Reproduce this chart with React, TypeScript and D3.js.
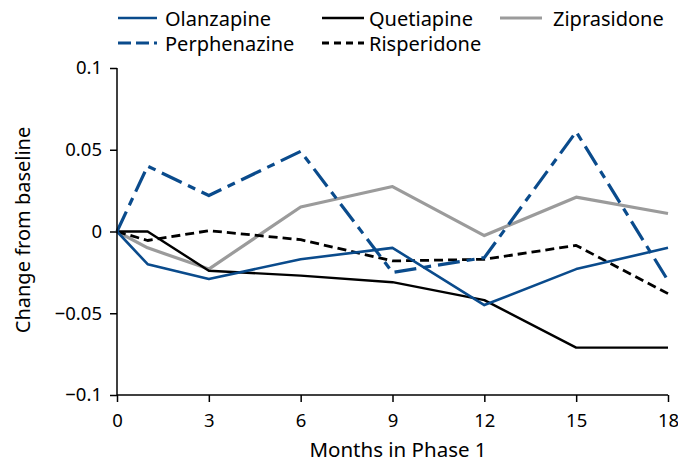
import React, { useEffect, useRef } from 'react';
import * as d3 from 'd3';

const months = [0, 1, 3, 6, 9, 12, 15, 18];
const olanzapine = [0, -0.02, -0.029, -0.017, -0.01, -0.045, -0.023, -0.01];
const perphenazine = [0, 0.04, 0.022, 0.049, -0.025, -0.016, 0.061, -0.03];
const quetiapine = [0, 0, -0.024, -0.027, -0.031, -0.042, -0.071, -0.071];
const risperidone = [0, -0.0055, 0.0005, -0.005, -0.018, -0.017, -0.0085, -0.038];
const ziprasidone = [0, -0.01, -0.023, 0.015, 0.0275, -0.0025, 0.021, 0.011];
const xTicks = [0, 3, 6, 9, 12, 15, 18];
const yTicks = [0.1, 0.05, 0, -0.05, -0.1];

const BLUE = '#0a4b8c';
const GREY = '#9b9b9b';

const series = [
  { name: 'Olanzapine', values: olanzapine, color: BLUE, dash: null, legendDash: null, width: 2.6 },
  { name: 'Perphenazine', values: perphenazine, color: BLUE, dash: '22,7,8,7', legendDash: '13,5', width: 3.2 },
  { name: 'Quetiapine', values: quetiapine, color: '#000', dash: null, legendDash: null, width: 2.4 },
  { name: 'Risperidone', values: risperidone, color: '#000', dash: '9,5', legendDash: '7,5', width: 2.8 },
  { name: 'Ziprasidone', values: ziprasidone, color: GREY, dash: null, legendDash: null, width: 3.2 },
];

// legend layout: line start, line end, text x, row
const legendPos = [
  [118, 157, 165, 0],
  [118, 157, 165, 1],
  [322, 364, 369, 0],
  [322, 364, 369, 1],
  [500, 542, 553, 0],
];

export default function App() {
  const svgRef = useRef<SVGSVGElement>(null);

  useEffect(() => {
    const svg = d3.select(svgRef.current);
    svg.selectAll('*').remove();
    const font = "'Noto Sans', sans-serif";

    const x = d3.scaleLinear().domain([0, 18]).range([117, 668]);
    const y = d3.scaleLinear().domain([-0.1, 0.1]).range([395, 68]);

    // lines
    const line = d3.line<number>()
      .x((d, i) => x(months[i]))
      .y(d => y(d));

    const order = [4, 3, 2, 0, 1];
    order.forEach(k => {
      const s = series[k];
      svg.append('path')
        .attr('d', line(s.values))
        .attr('fill', 'none')
        .attr('stroke', s.color)
        .attr('stroke-width', s.width)
        .attr('stroke-linejoin', 'round')
        .attr('stroke-dasharray', s.dash);
    });

    // axes
    const xAxis = d3.axisBottom(x).tickValues(xTicks).tickSize(7).tickPadding(12)
      .tickFormat(d => String(d));
    const gx = svg.append('g').attr('transform', `translate(0,${395})`).call(xAxis);
    gx.select('.domain').attr('d', `M117,0H668`).attr('stroke-width', 1.5);

    const yAxis = d3.axisLeft(y).tickValues(yTicks).tickSize(7).tickPadding(8)
      .tickFormat(d => {
        const v = +d;
        if (v === 0) return '0';
        return (v < 0 ? '\u22120' : '0') + d3.format('.2~f')(Math.abs(v)).slice(1);
      });
    const gy = svg.append('g').attr('transform', `translate(${117},0)`).call(yAxis);
    gy.select('.domain').attr('d', `M0,68V395`).attr('stroke-width', 1.5);

    [gx, gy].forEach(g => {
      g.selectAll('.tick line').attr('stroke-width', 1.5);
      g.selectAll('.tick text').attr('font-family', font).attr('font-size', 18.5).attr('fill', '#000');
    });

    svg.append('text')
      .attr('x', 398).attr('y', 457)
      .attr('text-anchor', 'middle')
      .attr('font-family', font).attr('font-size', 20.5)
      .text('Months in Phase 1');

    svg.append('text')
      .attr('transform', `translate(30,230) rotate(-90)`)
      .attr('text-anchor', 'middle')
      .attr('font-family', font).attr('font-size', 20)
      .text('Change from baseline');

    // legend
    const rowY = [18, 43];
    series.forEach((s, i) => {
      const [x1, x2, tx, r] = legendPos[i];
      const ly = rowY[r];
      svg.append('line')
        .attr('x1', x1).attr('x2', x2)
        .attr('y1', ly).attr('y2', ly)
        .attr('stroke', s.color)
        .attr('stroke-width', s.width)
        .attr('stroke-dasharray', s.legendDash);
      svg.append('text')
        .attr('x', tx).attr('y', ly + 8)
        .attr('font-family', font).attr('font-size', 20)
        .text(s.name);
    });
  }, []);

  return (
    <svg ref={svgRef} width={678} height={465}
      style={{ position: 'absolute', left: 0, top: 0, background: '#fff' }} />
  );
}
